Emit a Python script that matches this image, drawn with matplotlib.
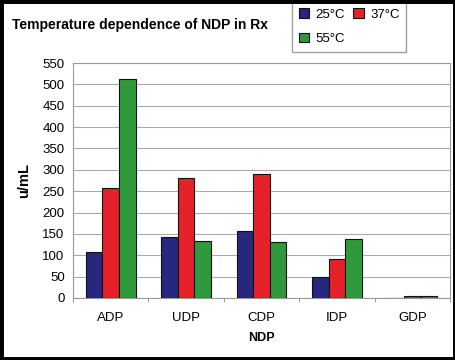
import numpy as np
import matplotlib.pyplot as plt
from matplotlib.patches import Rectangle

plt.rcParams['font.family'] = ['Liberation Sans', 'DejaVu Sans']

categories = ['ADP', 'UDP', 'CDP', 'IDP', 'GDP']
series_names = ['25°C', '37°C', '55°C']
vals_25 = [108, 143, 157, 48, 0]
vals_37 = [258, 280, 290, 92, 4]
vals_55 = [512, 134, 132, 138, 4]
colors = ['#27277e', '#e5222a', '#2f9a3c']
yticks = list(range(0, 551, 50))

fig = plt.figure(figsize=(4.56, 3.6), dpi=100)
ax = fig.add_axes([73 / 456, 62 / 360, 377 / 456, 235 / 360])

x = np.arange(len(categories))
w = 0.22
bars = []
for i, (vals, name, c) in enumerate(zip([vals_25, vals_37, vals_55], series_names, colors)):
    b = ax.bar(x + (i - 1) * w, vals, w, color=c, edgecolor='#111111', linewidth=0.8,
               label=name, zorder=3)
    bars.append(b)

ax.set_xlim(-0.5, len(categories) - 0.5)
ax.set_ylim(0, 550)
ax.set_yticks(yticks)
ax.set_xticks(x)
ax.set_xticklabels(categories)
ax.set_xticks(np.arange(-0.5, len(categories)), minor=True)
ax.tick_params(axis='x', which='major', length=0, pad=10, labelsize=9.5)
ax.tick_params(axis='x', which='minor', length=3, color='#888888')
ax.tick_params(axis='y', length=0, labelsize=9.5, pad=6)
ax.yaxis.grid(True, color='#aaaaaa', linewidth=0.8, zorder=0)
for s in ax.spines.values():
    s.set_color('#999999')
    s.set_linewidth(0.8)

ax.set_xlabel('NDP', fontsize=9, fontweight='bold', labelpad=6)
ax.set_ylabel('u/mL', fontsize=10.5, fontweight='bold', labelpad=8)

fig.text(12 / 456, 1 - 25 / 360, 'Temperature dependence of NDP in Rx',
         fontsize=10, fontweight='bold', va='center', ha='left')

# row-major order: 25, 37 / 55
order = [0, 2, 1]
leg = fig.legend([bars[k] for k in order], [series_names[k] for k in order],
                 loc='upper left', bbox_to_anchor=(292 / 456, 0.995), ncol=2,
                 fontsize=9.5, frameon=True, fancybox=False, edgecolor='#888888',
                 handlelength=0.8, handleheight=0.7, handletextpad=0.5,
                 columnspacing=0.6, borderpad=0.5, labelspacing=0.95,
                 borderaxespad=0)

fig.patches.append(Rectangle((0, 0), 1, 1, transform=fig.transFigure, fill=False,
                             edgecolor='black', linewidth=5, zorder=10))

fig.savefig('out.png', dpi=100)
